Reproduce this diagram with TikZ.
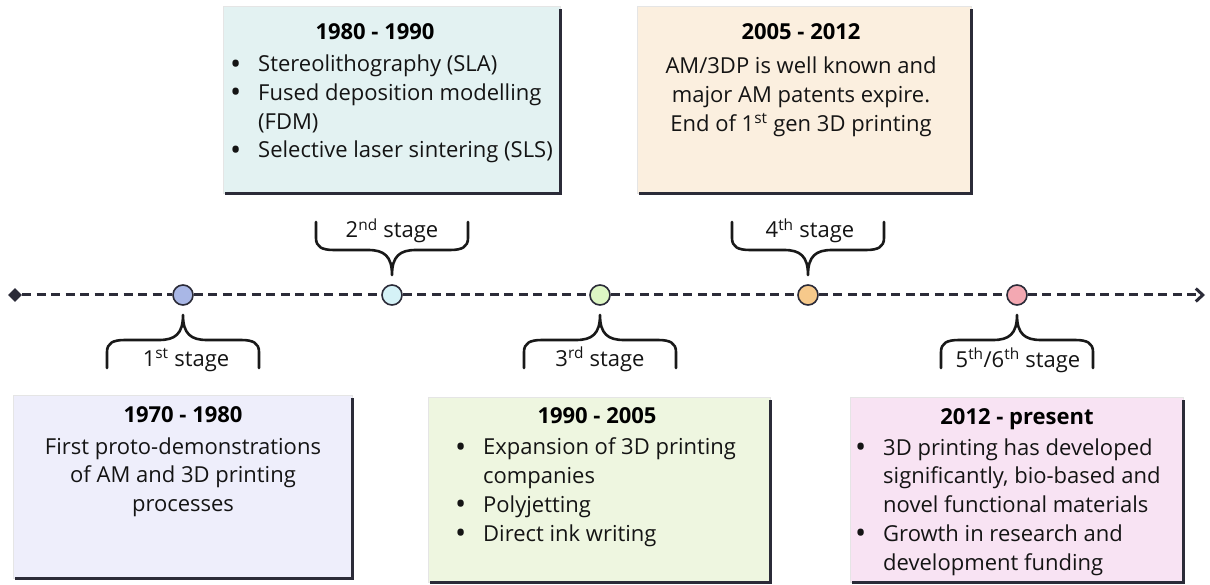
\documentclass[tikz,border=0pt]{standalone}
\usepackage{fontspec}
\usepackage{graphicx}
\setmainfont{Open Sans}
\usetikzlibrary{arrows.meta,shapes.geometric}
\definecolor{ink}{HTML}{2B2B38}
\definecolor{fillA}{HTML}{EEEEFB}
\definecolor{fillB}{HTML}{E3F2F2}
\definecolor{fillC}{HTML}{EEF6E0}
\definecolor{fillD}{HTML}{FBEFDF}
\definecolor{fillE}{HTML}{F8E3F3}
\definecolor{dotA}{HTML}{A9B7E6}
\definecolor{dotB}{HTML}{D5F2F7}
\definecolor{dotC}{HTML}{DDF6C4}
\definecolor{dotD}{HTML}{F6C98B}
\definecolor{dotE}{HTML}{F3A8B2}
\tikzset{
  txt/.style={font=\fontsize{22}{28.7}\selectfont, text=black!92, inner sep=0pt},
  ttl/.style={font=\bfseries\fontsize{22}{26}\selectfont, inner sep=0pt, anchor=base},
  card/.style={draw=black!10, line width=0.5pt, anchor=north west, inner sep=0pt},
  shadowline/.style={draw=ink, line width=2.2pt},
  dot/.style={circle, draw=ink, line width=1.6pt, minimum size=20pt, inner sep=0pt},
  timeline/.style={draw=ink, line width=3pt, dash pattern=on 9pt off 5.5pt},
  bracestyle/.style={draw=black!90, line width=2.6pt, line cap=round, line join=round},
  stagelbl/.style={font=\fontsize{22}{26}\selectfont, text=black!92, inner sep=0pt, anchor=base},
  bracepic/.pic={\draw[bracestyle] (-76,28) -- (-76,12) .. controls (-76,3) and (-70,0) .. (-58,0) -- (-24,0) .. controls (-8,0) and (0,-6) .. (0,-25) .. controls (0,-6) and (8,0) .. (24,0) -- (58,0) .. controls (70,0) and (76,3) .. (76,12) -- (76,28);}
}
\newcommand{\bul}{\makebox[28pt][l]{\raisebox{-2.2pt}{\scalebox{1.35}{•}}}}
\newcommand{\ind}{\hspace*{28pt}}
\begin{document}
\begin{tikzpicture}[x=1pt,y=-1pt]
\useasboundingbox (0,0) rectangle (1210,585);

% cards
\node[card, fill=fillA, minimum width=339pt, minimum height=183pt] (b1) at (13,395) {};
\node[card, fill=fillB, minimum width=337pt, minimum height=187pt] (b2) at (223,6) {};
\node[card, fill=fillD, minimum width=334pt, minimum height=187pt] (b3) at (637,6) {};
\node[card, fill=fillC, minimum width=342pt, minimum height=185pt] (b4) at (428,397) {};
\node[card, fill=fillE, minimum width=333pt, minimum height=185pt] (b5) at (850,397) {};
\foreach \b in {b1,b2,b3,b4,b5}{
  \draw[shadowline] ([xshift=2pt]\b.south west) -- (\b.south east) -- ([yshift=-3pt]\b.north east);
}

% titles
\node[ttl] (t1) at (183,422) {1970 - 1980};
\node[ttl] (t2) at (375,40) {1980 - 1990};
\node[ttl] (t3) at (801,40) {2005 - 2012};
\node[ttl] (t4) at (597,423) {1990 - 2005};
\node[ttl] (t5) at (1017,424) {2012 - present};

% bodies (anchor base = baseline of last line)
\node[txt, anchor=base, align=center] (x1) at (183,511.4) {First proto-demonstrations\\of AM and 3D printing\\processes};
\node[txt, anchor=base west, align=left] (x2) at (230,158) {\bul Stereolithography (SLA)\\\bul Fused deposition modelling\\\ind (FDM)\\\bul Selective laser sintering (SLS)};
\node[txt, anchor=base, align=center] (x3) at (801,131.4) {AM/3DP is well known and\\major AM patents expire.\\End of 1\textsuperscript{st} gen 3D printing};
\node[txt, anchor=base west, align=left] (x4) at (455,541) {\bul Expansion of 3D printing\\\ind companies\\\bul Polyjetting\\\bul Direct ink writing};
\node[txt, anchor=base west, align=left] (x5) at (855,570) {\bul 3D printing has developed\\\ind significantly, bio-based and\\\ind novel functional materials\\\bul Growth in research and\\\ind development funding};

% timeline
\node[diamond, fill=ink, minimum size=14pt, inner sep=0pt] (s) at (15,295) {};
\coordinate (e) at (1205,295);
\node[dot, fill=dotA] (c1) at (183,295) {};
\node[dot, fill=dotB] (c2) at (392,295) {};
\node[dot, fill=dotC] (c3) at (600,295) {};
\node[dot, fill=dotD] (c4) at (808,295) {};
\node[dot, fill=dotE] (c5) at (1017,295) {};
\draw[timeline] (s) -- (c1);
\draw[timeline] (c1) -- (c2);
\draw[timeline] (c2) -- (c3);
\draw[timeline] (c3) -- (c4);
\draw[timeline] (c4) -- (c5);
\draw[timeline, -{Straight Barb[length=7pt,width=13pt,line width=3pt]}] (c5) -- (e);

% braces
\pic at (183,340) {bracepic};
\pic[yscale=-1] at (392,250) {bracepic};
\pic at (600,340) {bracepic};
\pic[yscale=-1] at (808,250) {bracepic};
\pic at (1017,340) {bracepic};

% stage labels
\node[stagelbl] (l1) at (186,366) {1\textsuperscript{st} stage};
\node[stagelbl] (l2) at (392,238) {2\textsuperscript{nd} stage};
\node[stagelbl] (l3) at (600,366) {3\textsuperscript{rd} stage};
\node[stagelbl] (l4) at (810,238) {4\textsuperscript{th} stage};
\node[stagelbl] (l5) at (1018,367) {5\textsuperscript{th}/6\textsuperscript{th} stage};
\end{tikzpicture}
\end{document}
